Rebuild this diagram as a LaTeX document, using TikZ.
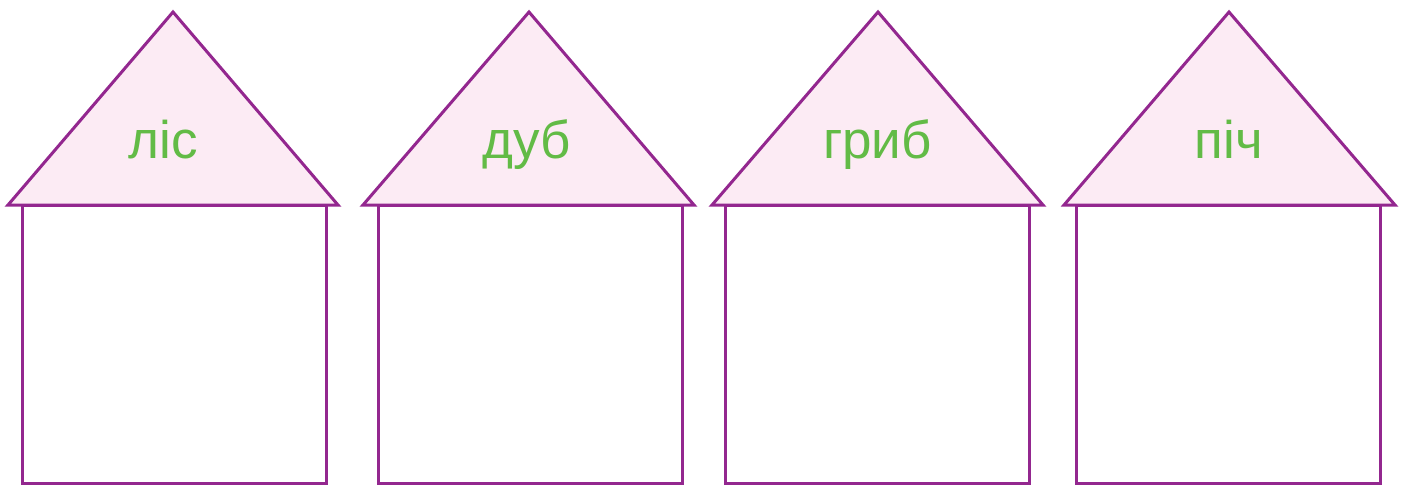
\documentclass[tikz,border=0pt]{standalone}
\usepackage{fontspec}
\setmainfont{Liberation Sans}
\definecolor{housepurple}{HTML}{93278F}
\definecolor{roofpink}{HTML}{FCEBF4}
\definecolor{wordgreen}{HTML}{62BB46}
\tikzset{
  housebody/.style={draw=housepurple, line width=3pt, fill=white},
  roof/.style={draw=housepurple, line width=3pt, fill=roofpink, line join=miter},
  word/.style={text=wordgreen, font=\fontsize{53}{62}\selectfont, anchor=base, inner sep=0pt}
}
\begin{document}
\begin{tikzpicture}[x=1pt,y=-1pt]
\useasboundingbox (0,0) rectangle (1405,485);
% house 1
\draw[housebody] (22,205) rectangle (326,483);
\draw[roof] (8,205) -- (173,12) -- (338,205) -- cycle;
\node[word] (w1) at (163.5,158) {ліс};
% house 2
\draw[housebody] (378,205) rectangle (682,483);
\draw[roof] (363,205) -- (529,12) -- (694,205) -- cycle;
\node[word] (w2) at (527,158) {дуб};
% house 3
\draw[housebody] (725,205) rectangle (1029,483);
\draw[roof] (712,205) -- (878,12) -- (1043,205) -- cycle;
\node[word] (w3) at (877.5,158) {гриб};
% house 4
\draw[housebody] (1076,205) rectangle (1380,483);
\draw[roof] (1064,205) -- (1229,12) -- (1395,205) -- cycle;
\node[word] (w4) at (1229,158) {піч};
\end{tikzpicture}
\end{document}
